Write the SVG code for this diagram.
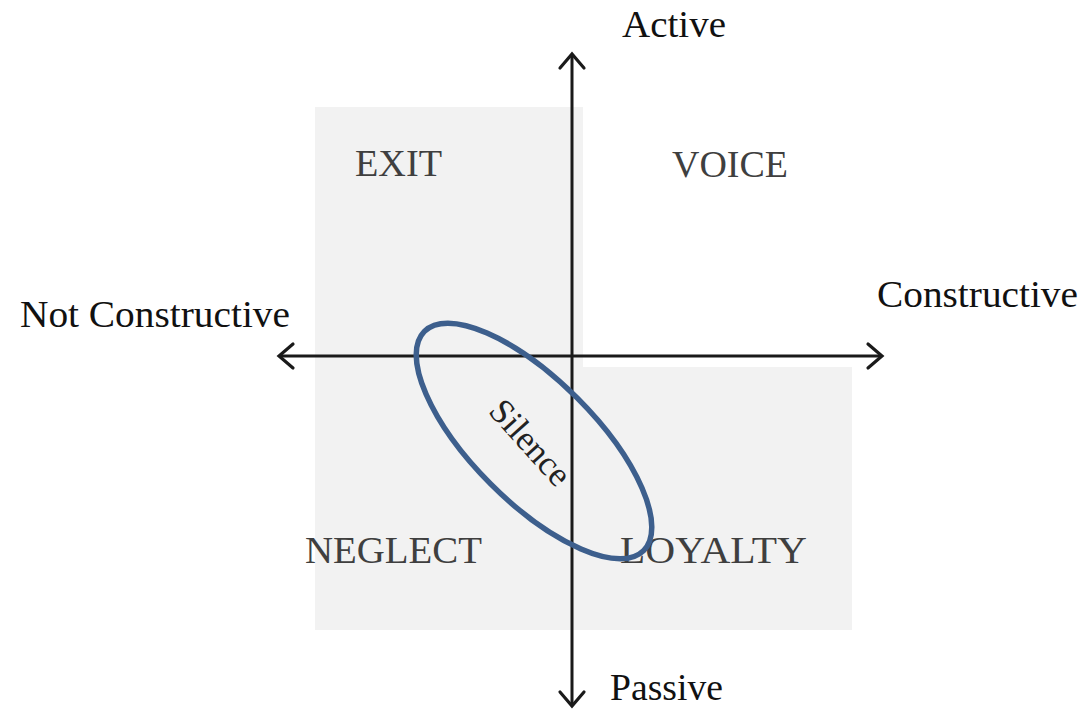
<svg xmlns="http://www.w3.org/2000/svg" width="1084" height="710" viewBox="0 0 1084 710">
<defs>
<style>
.q{font-family:"Liberation Serif","Times New Roman",serif;font-size:38px;fill:#3f3f3f}
.ax{font-family:"Liberation Serif","Times New Roman",serif;font-size:38px;fill:#111}
.axis{stroke:#1a1a1a;stroke-width:3;fill:none}
.bg{fill:#f2f2f2}
</style>
<marker id="arr" markerUnits="userSpaceOnUse" markerWidth="40" markerHeight="40" viewBox="-20 -20 40 40" refX="0" refY="0" orient="auto-start-reverse">
<path d="M -14 -12 L 0 0 L -14 12" fill="none" stroke="#1a1a1a" stroke-width="3.2" stroke-linecap="round" stroke-linejoin="miter"/>
</marker>
</defs>
<rect width="1084" height="710" fill="#fff"/>
<g id="background">
<rect class="bg" x="315" y="107" width="268" height="523"/>
<rect class="bg" x="583" y="367" width="269" height="263"/>
</g>
<g id="connectors">
<line class="axis" x1="572" y1="54" x2="572" y2="706" marker-start="url(#arr)" marker-end="url(#arr)"/>
<line class="axis" x1="279" y1="356" x2="882" y2="356" marker-start="url(#arr)" marker-end="url(#arr)"/>
</g>
<g id="exit"><text class="q" x="355" y="176" textLength="87" lengthAdjust="spacingAndGlyphs">EXIT</text></g>
<g id="voice"><text class="q" x="672" y="177" textLength="116" lengthAdjust="spacingAndGlyphs">VOICE</text></g>
<g id="neglect"><text class="q" x="305" y="563" textLength="177" lengthAdjust="spacingAndGlyphs">NEGLECT</text></g>
<g id="loyalty"><text class="q" x="620" y="563" textLength="187" lengthAdjust="spacingAndGlyphs">LOYALTY</text></g>
<g id="active"><text class="ax" x="622" y="37" textLength="104" lengthAdjust="spacingAndGlyphs">Active</text></g>
<g id="passive"><text class="ax" x="610" y="700" textLength="113" lengthAdjust="spacingAndGlyphs">Passive</text></g>
<g id="not-constructive"><text class="ax" x="20" y="327" textLength="270" lengthAdjust="spacingAndGlyphs">Not Constructive</text></g>
<g id="constructive"><text class="ax" x="877" y="307" textLength="201" lengthAdjust="spacingAndGlyphs">Constructive</text></g>
<g id="silence">
<ellipse cx="534" cy="441" rx="155" ry="61" transform="rotate(45 534 441)" fill="none" stroke="#3d5f8d" stroke-width="5.5"/>
<text x="0" y="0" transform="translate(530 443) rotate(48)" text-anchor="middle" dy="11" style="font-family:'Liberation Serif','Times New Roman',serif;font-size:35px;fill:#222">Silence</text>
</g>
</svg>
